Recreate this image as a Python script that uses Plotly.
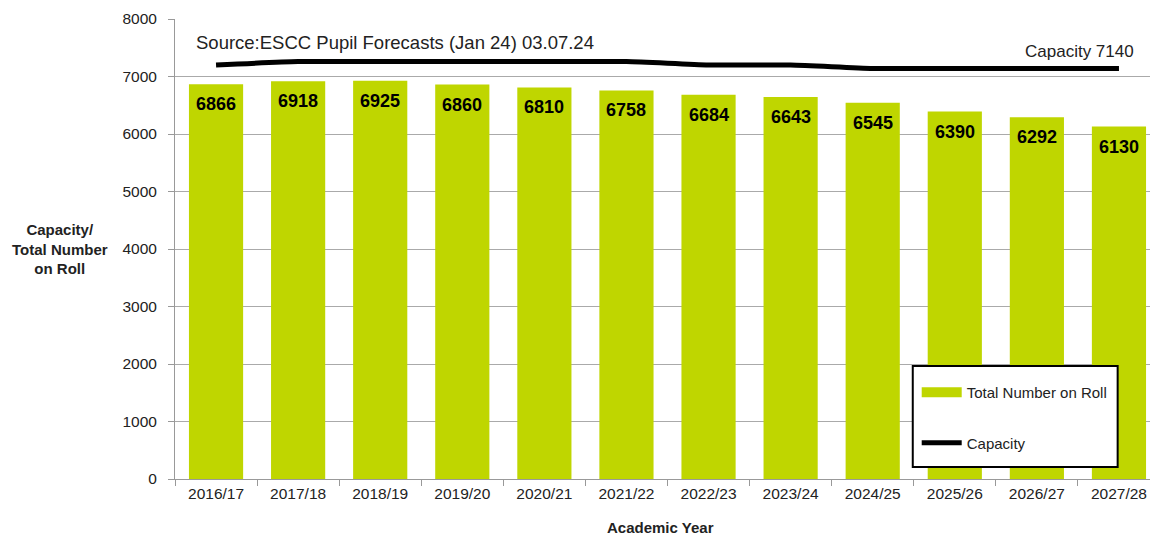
import plotly.graph_objects as go

years = ["2016/17", "2017/18", "2018/19", "2019/20", "2020/21", "2021/22",
         "2022/23", "2023/24", "2024/25", "2025/26", "2026/27", "2027/28"]
on_roll = [6866, 6918, 6925, 6860, 6810, 6758, 6684, 6643, 6545, 6390, 6292, 6130]
capacity = [7200, 7260, 7260, 7260, 7260, 7260, 7200, 7200, 7140, 7140, 7140, 7140]
y_ticks = [0, 1000, 2000, 3000, 4000, 5000, 6000, 7000, 8000]

bar_color = "#BFD600"
font_main = "Liberation Sans, Arial, sans-serif"
text_color = "#222"

fig = go.Figure()
fig.add_trace(go.Bar(
    x=years, y=on_roll, name="Total Number on Roll",
    marker=dict(color=bar_color, line=dict(width=0)),
    showlegend=False,
))
fig.add_trace(go.Scatter(
    x=years, y=capacity, name="Capacity", mode="lines",
    line=dict(color="black", width=5, shape="spline", smoothing=0.6),
    showlegend=False,
))
# legend entries (wide swatches like the original)
fig.add_trace(go.Scatter(
    x=[None], y=[None], name="Total Number on Roll", mode="lines",
    line=dict(color=bar_color, width=10), legendgroup="a",
))
fig.add_trace(go.Scatter(
    x=[None], y=[None], name="Capacity", mode="lines",
    line=dict(color="black", width=5), legendgroup="b",
))

annotations = [
    dict(x=yr, y=v, xref="x", yref="y", text="<b>%d</b>" % v, showarrow=False,
         yanchor="middle", xanchor="center", yshift=-20,
         font=dict(family=font_main, size=18, color="black"))
    for yr, v in zip(years, on_roll)
]
annotations += [
    dict(text="Source:ESCC Pupil Forecasts (Jan 24) 03.07.24", xref="paper", yref="paper",
         x=0.0193, y=0.948, xanchor="left", yanchor="middle", showarrow=False,
         font=dict(family=font_main, size=18.5, color=text_color)),
    dict(text="Capacity 7140", xref="paper", yref="paper",
         x=0.9756, y=0.93, xanchor="right", yanchor="middle", showarrow=False,
         font=dict(family=font_main, size=17, color=text_color)),
    dict(text="<b>Capacity/<br>Total Number<br>on Roll</b>", xref="paper", yref="paper",
         x=-0.1169, y=0.501, xanchor="center", yanchor="middle", showarrow=False,
         align="center", font=dict(family=font_main, size=15, color=text_color)),
    dict(text="<b>Academic Year</b>", xref="paper", yref="paper",
         x=0.493, y=-0.1065, xanchor="center", yanchor="middle", showarrow=False,
         font=dict(family=font_main, size=15, color=text_color)),
]

fig.update_layout(
    width=1160, height=535,
    margin=dict(l=175, r=0, t=19, b=56),
    paper_bgcolor="white", plot_bgcolor="white",
    bargap=0.34,
    font=dict(family=font_main, size=15, color=text_color),
    showlegend=True,
    legend=dict(
        x=0.753, y=0.224, xanchor="left", yanchor="top",
        bgcolor="rgba(0,0,0,0)", borderwidth=0,
        font=dict(family=font_main, size=15, color=text_color),
        tracegroupgap=28, itemwidth=40,
    ),
    shapes=[
        dict(type="rect", xref="paper", yref="paper", x0=0.749, x1=0.957,
             y0=0.026, y1=0.2457, fillcolor="white",
             line=dict(color="black", width=2), layer="above"),
    ],
    xaxis=dict(
        type="category", showline=True, linecolor="#999", linewidth=1,
        ticks="outside", tickson="boundaries", ticklen=6, tickcolor="#999",
        tickfont=dict(size=15.5, color=text_color),
    ),
    yaxis=dict(
        range=[0, 8000], tickvals=y_ticks, showline=True, linecolor="#999",
        linewidth=1, ticks="outside", ticklen=6, tickcolor="#999",
        showgrid=True, gridcolor="#aaa", gridwidth=1, ticklabelstandoff=8,
        tickfont=dict(size=15.5, color=text_color), zeroline=False,
    ),
    annotations=annotations,
)

fig.write_html(
    "out.html",
    config={"displayModeBar": False},
    post_script="document.body.style.margin='0';document.body.style.overflow='hidden';",
)
